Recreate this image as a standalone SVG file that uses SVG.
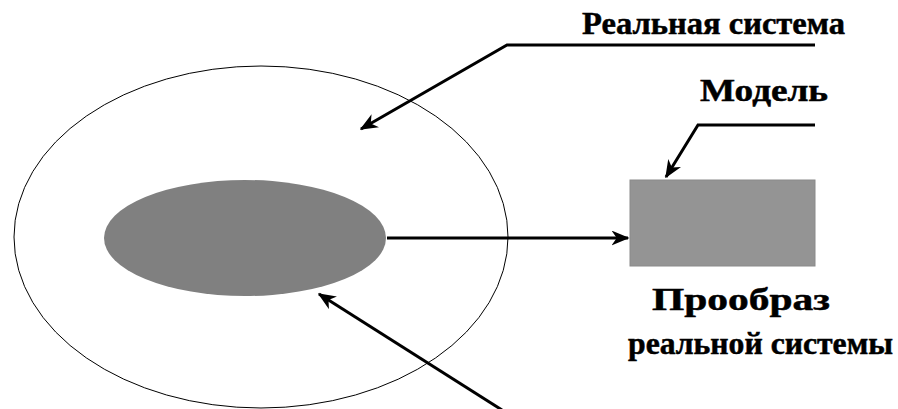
<svg xmlns="http://www.w3.org/2000/svg" width="898" height="409" viewBox="0 0 898 409">
<style>
.lbl{font-family:"Liberation Serif","DejaVu Serif",serif;font-weight:bold;fill:#000;stroke:#000;stroke-width:0.5}
.ln{stroke:#000;stroke-width:3;fill:none}
</style>
<defs>
<marker id="ah" viewBox="0 0 12 10" refX="11" refY="5" markerWidth="6" markerHeight="5" markerUnits="strokeWidth" orient="auto">
<path d="M0,0 L12,5 L0,10 L3.5,5 z" fill="#000"/>
</marker>
</defs>
<rect width="898" height="409" fill="#fff"/>
<g id="real-system">
<ellipse cx="261" cy="237" rx="247" ry="171" fill="none" stroke="#000" stroke-width="1"/>
</g>
<g id="prototype">
<ellipse cx="245" cy="238" rx="141" ry="58" fill="#808080"/>
</g>
<g id="model">
<rect x="630" y="180" width="185" height="86" fill="#949494" stroke="#8a8a8a" stroke-width="1"/>
</g>
<g id="labels">
<text class="lbl" x="582" y="34" style="font-size:31px" textLength="263" lengthAdjust="spacingAndGlyphs">Реальная система</text>
<text class="lbl" x="700" y="101" style="font-size:31px" textLength="128" lengthAdjust="spacingAndGlyphs">Модель</text>
<text class="lbl" x="652" y="310" style="font-size:32px" textLength="178" lengthAdjust="spacingAndGlyphs">Прообраз</text>
<text class="lbl" x="628" y="354" style="font-size:31px" textLength="265" lengthAdjust="spacingAndGlyphs">реальной системы</text>
</g>
<g id="connectors">
<polyline class="ln" points="815,45 507,45 361,129" marker-end="url(#ah)"/>
<polyline class="ln" points="815,125 698,125 666,177" marker-end="url(#ah)"/>
<line class="ln" x1="387" y1="238" x2="628" y2="238" marker-end="url(#ah)"/>
<line class="ln" x1="502" y1="410" x2="319" y2="294" marker-end="url(#ah)"/>
</g>
</svg>
